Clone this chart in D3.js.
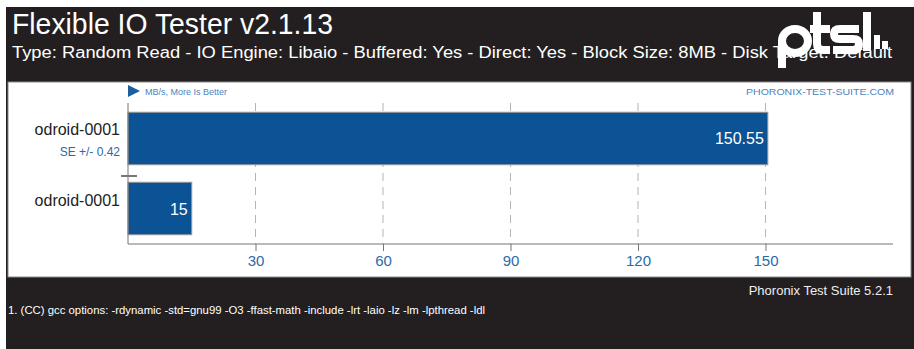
<!DOCTYPE html>
<html><head><meta charset="utf-8">
<script src="https://cdn.jsdelivr.net/npm/d3@7"></script>
<style>html,body{margin:0;padding:0;background:#fff;}svg{display:block;}</style>
</head><body>
<script>
const categories = ["odroid-0001", "odroid-0001"];
const values = [150.55, 15];
const valueLabels = ["150.55", "15"];
const seLabels = ["SE +/- 0.42", ""];
const tickValues = [30, 60, 90, 120, 150];
const title = "Flexible IO Tester v2.1.13";
const subtitle = "Type: Random Read - IO Engine: Libaio - Buffered: Yes - Direct: Yes - Block Size: 8MB - Disk Target: Default";
const unitLabel = "MB/s, More Is Better";
const siteLabel = "PHORONIX-TEST-SUITE.COM";
const footerRight = "Phoronix Test Suite 5.2.1";
const footerNote = "1. (CC) gcc options: -rdynamic -std=gnu99 -O3 -ffast-math -include -lrt -laio -lz -lm -lpthread -ldl";

const W = 914, H = 349;
const FONT = "'Liberation Sans', Arial, sans-serif";
const svg = d3.select("body").append("svg").attr("width", W).attr("height", H);

svg.append("rect").attr("x", 6).attr("y", 7).attr("width", W - 6).attr("height", H - 7).attr("fill", "#231f20");
svg.append("rect").attr("x", 8).attr("y", 82).attr("width", 903).attr("height", 195).attr("fill", "#fff").attr("stroke", "#8a8a8a").attr("stroke-width", 1);

svg.append("text").attr("x", 12).attr("y", 34).attr("fill", "#fff").attr("font-family", FONT).attr("font-size", 29)
  .attr("textLength", 321).attr("lengthAdjust", "spacingAndGlyphs").text(title);
svg.append("text").attr("x", 12).attr("y", 58).attr("fill", "#fff").attr("font-family", FONT).attr("font-size", 16)
  .attr("textLength", 880).attr("lengthAdjust", "spacingAndGlyphs").text(subtitle);

// logo
const logo = svg.append("g").attr("fill", "none").attr("stroke", "#fff").attr("stroke-width", 8).attr("stroke-linecap", "butt");
logo.append("path").attr("d", "M782,68 L782,41 A13,12 0 0 1 808,41 A13,12 0 0 1 782,41");
logo.append("path").attr("d", "M817,12 L817,44 Q817,50 823,50 L830,50 M810,29 L830,29");
logo.append("path").attr("d", "M859,29 L840,29 Q834,29 834,34 Q834,39 840,39 L853,39 Q859,39 859,44 Q859,50 853,50 L833,50");
logo.append("path").attr("d", "M867,12 L867,51");
logo.append("path").attr("d", "M877,35 L877,49 M885,41 L885,49").attr("stroke-width", 6);

const x = d3.scaleLinear().domain([0, 180]).range([128, 893]);
const y = d3.scaleBand().domain(d3.range(values.length)).range([103, 244]).paddingInner(0.25).paddingOuter(0.132);

// grid
svg.append("g").selectAll("line").data(tickValues).join("line")
  .attr("x1", d => x(d)).attr("x2", d => x(d)).attr("y1", 103).attr("y2", 244)
  .attr("stroke", "#b4b4b4").attr("stroke-dasharray", "8,6").attr("stroke-width", 1);

// bars
svg.append("g").selectAll("rect").data(values).join("rect")
  .attr("x", x(0)).attr("y", (d, i) => y(i)).attr("width", d => x(d) - x(0)).attr("height", y.bandwidth())
  .attr("fill", "#0b5394").attr("stroke", "#9a9a9a").attr("stroke-width", 1);

svg.append("g").selectAll("text").data(values).join("text")
  .attr("x", d => x(d) - 4).attr("y", (d, i) => y(i) + y.bandwidth() / 2 + 6)
  .attr("text-anchor", "end").attr("fill", "#fff").attr("font-family", FONT).attr("font-size", 16)
  .text((d, i) => valueLabels[i]);

// axes
const axisG = svg.append("g").attr("transform", "translate(0,244)");
axisG.call(d3.axisBottom(x).tickValues(tickValues).tickSize(7).tickPadding(4).tickFormat(d3.format("d")));
axisG.select(".domain").attr("stroke", "#777").attr("d", `M${x(0)},0H${x(180)}`);
axisG.selectAll(".tick line").attr("stroke", "#777");
axisG.selectAll(".tick text").attr("fill", "#2a6aa8").attr("font-family", FONT).attr("font-size", 15);

svg.append("line").attr("x1", x(0)).attr("x2", x(0)).attr("y1", 103).attr("y2", 244).attr("stroke", "#777");
svg.append("line").attr("x1", 121).attr("x2", 137).attr("y1", 176).attr("y2", 176).attr("stroke", "#777").attr("stroke-width", 2);

// category labels
svg.append("g").selectAll("text").data(categories).join("text")
  .attr("x", 120).attr("y", (d, i) => y(i) + y.bandwidth() / 2 - 3)
  .attr("text-anchor", "end").attr("fill", "#222").attr("font-family", FONT).attr("font-size", 16).text(d => d);
svg.append("g").selectAll("text").data(seLabels.filter(s => s)).join("text")
  .attr("x", 120).attr("y", (d, i) => y(i) + y.bandwidth() / 2 + 18)
  .attr("text-anchor", "end").attr("fill", "#2a6aa8").attr("font-family", FONT).attr("font-size", 12).text(d => d);

// header labels inside panel
svg.append("path").attr("d", "M128,85 L140,91 L128,97 Z").attr("fill", "#1a5f9e");
svg.append("text").attr("x", 145).attr("y", 94.5).attr("fill", "#4a84c0").attr("font-family", FONT).attr("font-size", 9).text(unitLabel);
svg.append("text").attr("x", 894).attr("y", 94.5).attr("text-anchor", "end").attr("fill", "#4a84c0").attr("font-family", FONT).attr("font-size", 9)
  .attr("textLength", 148).attr("lengthAdjust", "spacingAndGlyphs").text(siteLabel);

// footer
svg.append("text").attr("x", 893).attr("y", 295).attr("text-anchor", "end").attr("fill", "#eee").attr("font-family", FONT).attr("font-size", 13).text(footerRight);
svg.append("text").attr("x", 8).attr("y", 314).attr("fill", "#fff").attr("font-family", FONT).attr("font-size", 10)
  .attr("textLength", 477).attr("lengthAdjust", "spacingAndGlyphs").text(footerNote);
</script>
</body></html>
